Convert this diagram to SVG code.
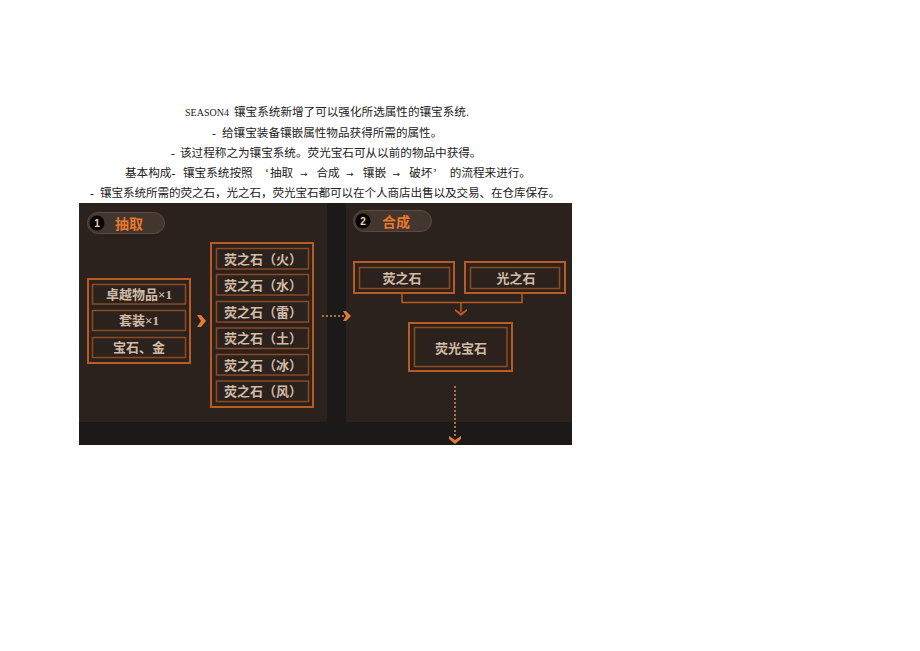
<svg xmlns="http://www.w3.org/2000/svg" width="920" height="651" viewBox="0 0 920 651">
<style>
.hd{font-family:"Liberation Serif","Noto Sans CJK SC",serif;font-size:11.6px;fill:#222}
.ar{font-family:"DejaVu Sans",sans-serif;font-size:9px}
.ob{fill:none;stroke:#b95b23;stroke-width:2}
.ib{fill:none;stroke:#8c4a22;stroke-width:1.5}
.bt{font-family:"Liberation Serif","Noto Sans CJK SC",serif;font-size:13px;font-weight:bold;fill:#d2bba6;text-anchor:middle}
.pill{fill:#43362e;stroke:#5a4a3f;stroke-width:1}
.pt{font-family:"Noto Sans CJK SC",sans-serif;font-size:14px;font-weight:bold;fill:#e8782c}
.num{font-family:"Liberation Sans",sans-serif;font-size:10px;font-weight:bold;fill:#f0d0b0;text-anchor:middle}
.ln{fill:none;stroke:#b95b23;stroke-width:1.5}
.dot{fill:none;stroke:#e08a55;stroke-width:1.5;stroke-dasharray:2 2}
.ah{fill:#e07b3a}
</style>
<rect width="920" height="651" fill="#ffffff"/>
<g id="header">
<text class="hd" y="116"><tspan x="185" font-size="10">SEASON4</tspan><tspan x="234">镶宝系统新增了可以强化所选属性的镶宝系统.</tspan></text>
<text class="hd" y="137"><tspan x="212">-</tspan><tspan x="222">给镶宝装备镶嵌属性物品获得所需的属性。</tspan></text>
<text class="hd" y="157"><tspan x="171">-</tspan><tspan x="180">该过程称之为镶宝系统。荧光宝石可从以前的物品中获得。</tspan></text>
<text class="hd" y="177"><tspan x="125">基本构成-</tspan><tspan x="183">镶宝系统按照</tspan><tspan x="265">‘</tspan><tspan x="270">抽取</tspan><tspan class="ar" x="300">→</tspan><tspan x="316.4">合成</tspan><tspan class="ar" x="346">→</tspan><tspan x="362.8">镶嵌</tspan><tspan class="ar" x="392.5">→</tspan><tspan x="409.2">破坏</tspan><tspan x="433">’</tspan><tspan x="449.8">的流程来进行。</tspan></text>
<text class="hd" y="197"><tspan x="90">-</tspan><tspan x="100" textLength="460">镶宝系统所需的荧之石，光之石，荧光宝石都可以在个人商店出售以及交易、在仓库保存。</tspan></text>
</g>
<g id="background">
<rect x="79" y="203" width="493" height="242" fill="#1c1a18"/>
<rect x="79" y="203" width="248" height="219" fill="#2b221d"/>
<rect x="346" y="203" width="226" height="219" fill="#2b221d"/>
</g>
<g id="step1">
<rect class="pill" x="87.5" y="212.5" width="77" height="21" rx="10.5"/>
<circle cx="97" cy="223" r="7.5" fill="#050505"/>
<text class="num" x="97" y="226.5">1</text>
<text class="pt" x="115" y="228.5">抽取</text>
</g>
<g id="sources">
<rect class="ob" x="88" y="279" width="102" height="84"/>
<g id="n-zhuoyue"><rect class="ib" x="92.5" y="284.5" width="93" height="19.5"/><text class="bt" x="139" y="299">卓越物品×1</text></g>
<g id="n-taozhuang"><rect class="ib" x="92.5" y="310.5" width="93" height="20"/><text class="bt" x="139" y="325">套装×1</text></g>
<g id="n-baoshi"><rect class="ib" x="92.5" y="337.5" width="93" height="20"/><text class="bt" x="139" y="352">宝石、金</text></g>
</g>
<g id="stones">
<rect class="ob" x="211" y="243" width="102" height="164"/>
<g id="n-huo"><rect class="ib" x="216.5" y="248.5" width="92" height="20.5"/><text class="bt" x="263" y="263.5">荧之石（火）</text></g>
<g id="n-shui"><rect class="ib" x="216.5" y="274.5" width="92" height="20.5"/><text class="bt" x="263" y="290">荧之石（水）</text></g>
<g id="n-lei"><rect class="ib" x="216.5" y="301.5" width="92" height="20.5"/><text class="bt" x="263" y="316.5">荧之石（雷）</text></g>
<g id="n-tu"><rect class="ib" x="216.5" y="328" width="92" height="20.5"/><text class="bt" x="263" y="343">荧之石（土）</text></g>
<g id="n-bing"><rect class="ib" x="216.5" y="354.5" width="92" height="20.5"/><text class="bt" x="263" y="369.5">荧之石（冰）</text></g>
<g id="n-feng"><rect class="ib" x="216.5" y="381" width="92" height="20.5"/><text class="bt" x="263" y="396">荧之石（风）</text></g>
</g>
<g id="step2">
<rect class="pill" x="353.5" y="210.5" width="78" height="21" rx="10.5"/>
<circle cx="363" cy="221" r="7.5" fill="#050505"/>
<text class="num" x="363" y="224.5">2</text>
<text class="pt" x="382" y="226.5">合成</text>
</g>
<g id="n-yingzhishi"><rect class="ob" x="354" y="262" width="100" height="31"/><rect class="ib" x="359.5" y="267.5" width="90" height="21"/><text class="bt" x="402" y="282.5">荧之石</text></g>
<g id="n-guangzhishi"><rect class="ob" x="465" y="262" width="100" height="31"/><rect class="ib" x="470.5" y="267.5" width="89" height="21"/><text class="bt" x="516" y="282.5">光之石</text></g>
<g id="n-yingguangbaoshi"><rect class="ob" x="409" y="323" width="103" height="48"/><rect class="ib" x="414.5" y="327.5" width="92.5" height="39"/><text class="bt" x="461" y="352.5">荧光宝石</text></g>
<g id="connectors">
<path d="M197,315 L201,315 L206,321 L201,327 L197,327 L201,321 Z" class="ah"/>
<line class="dot" x1="322" y1="316" x2="345" y2="316"/>
<path d="M343,311 L346,311 L351,316 L346,321 L343,321 L346,316 Z" class="ah"/>
<path class="ln" d="M402,293 V302.5 H522 V293"/>
<line class="ln" x1="461" y1="302.5" x2="461" y2="312"/>
<path d="M455,309 L461,313 L467,309 L467,311 L461,316 L455,311 Z" style="fill:#b95b23"/>
<line class="dot" x1="455" y1="386" x2="455" y2="438"/>
<path d="M449,436 L449,439 L455,444 L461,439 L461,436 L455,440 Z" class="ah"/>
</g>
</svg>
